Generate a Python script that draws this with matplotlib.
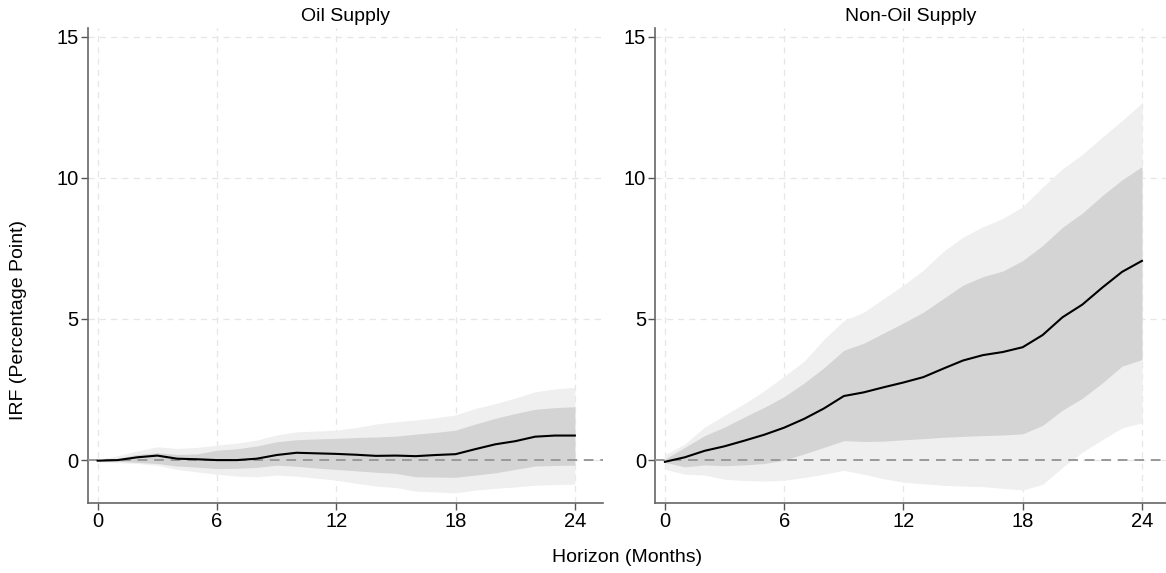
import matplotlib
matplotlib.use("Agg")
import matplotlib.pyplot as plt
import numpy as np

plt.rcParams['font.family'] = ['Liberation Sans', 'DejaVu Sans']

horizon = list(range(25))

titles = ["Oil Supply", "Non-Oil Supply"]

oil_median = [-0.02, 0.0, 0.10, 0.16, 0.05, 0.03, 0.0, 0.0, 0.05, 0.18, 0.26, 0.24, 0.22, 0.19, 0.15, 0.16, 0.14, 0.18, 0.21, 0.39, 0.56, 0.67, 0.83, 0.87, 0.87]
oil_inner_hi = [0.0, 0.06, 0.20, 0.26, 0.20, 0.22, 0.35, 0.40, 0.50, 0.65, 0.72, 0.75, 0.77, 0.80, 0.82, 0.85, 0.92, 0.98, 1.06, 1.28, 1.48, 1.65, 1.80, 1.86, 1.89]
oil_inner_lo = [-0.02, -0.04, -0.08, -0.12, -0.21, -0.25, -0.30, -0.29, -0.26, -0.18, -0.22, -0.28, -0.33, -0.38, -0.43, -0.47, -0.59, -0.60, -0.61, -0.53, -0.45, -0.33, -0.21, -0.19, -0.18]
oil_outer_hi = [0.02, 0.15, 0.33, 0.47, 0.41, 0.45, 0.53, 0.60, 0.71, 0.89, 1.00, 1.03, 1.06, 1.15, 1.28, 1.36, 1.42, 1.50, 1.60, 1.83, 2.00, 2.20, 2.42, 2.52, 2.58]
oil_outer_lo = [-0.06, -0.09, -0.12, -0.18, -0.33, -0.42, -0.50, -0.57, -0.59, -0.53, -0.57, -0.64, -0.71, -0.82, -0.92, -0.97, -1.10, -1.13, -1.16, -1.06, -1.00, -0.95, -0.89, -0.87, -0.85]

non_median = [-0.06, 0.10, 0.33, 0.49, 0.69, 0.90, 1.15, 1.46, 1.83, 2.27, 2.40, 2.58, 2.75, 2.94, 3.24, 3.53, 3.72, 3.83, 4.00, 4.43, 5.06, 5.51, 6.11, 6.67, 7.06]
non_inner_hi = [0.04, 0.45, 0.87, 1.17, 1.53, 1.87, 2.25, 2.73, 3.27, 3.89, 4.14, 4.50, 4.86, 5.24, 5.72, 6.20, 6.50, 6.70, 7.07, 7.60, 8.25, 8.75, 9.37, 9.93, 10.40]
non_inner_lo = [-0.08, -0.24, -0.17, -0.20, -0.17, -0.12, 0.0, 0.22, 0.45, 0.69, 0.66, 0.67, 0.72, 0.76, 0.81, 0.84, 0.87, 0.89, 0.93, 1.23, 1.77, 2.19, 2.73, 3.33, 3.56]
non_outer_hi = [0.19, 0.57, 1.17, 1.59, 2.00, 2.46, 2.97, 3.50, 4.28, 4.94, 5.24, 5.72, 6.20, 6.73, 7.39, 7.90, 8.27, 8.56, 8.98, 9.67, 10.32, 10.83, 11.44, 12.03, 12.65]
non_outer_lo = [-0.32, -0.50, -0.53, -0.68, -0.72, -0.74, -0.71, -0.62, -0.50, -0.36, -0.50, -0.66, -0.78, -0.84, -0.89, -0.92, -0.94, -1.00, -1.06, -0.86, -0.26, 0.28, 0.72, 1.14, 1.32]

panels = [
    (oil_median, oil_inner_lo, oil_inner_hi, oil_outer_lo, oil_outer_hi),
    (non_median, non_inner_lo, non_inner_hi, non_outer_lo, non_outer_hi),
]

xticks = [0, 6, 12, 18, 24]
yticks = [0, 5, 10, 15]

fig = plt.figure(figsize=(11.66, 5.73), dpi=100)
ax_rects = [
    [87.7/1166, 70/573, (603.3-87.7)/1166, (503-28.3)/573],
    [655/1166, 70/573, (1166-655)/1166, (503-28.3)/573],
]
xlims = [(-0.5, 25.43), (-0.5, 25.21)]

axes = []
for i, (rect, (med, ilo, ihi, olo, ohi)) in enumerate(zip(ax_rects, panels)):
    ax = fig.add_axes(rect)
    axes.append(ax)
    ax.fill_between(horizon, olo, ohi, color='#efefef', lw=0, zorder=1)
    ax.fill_between(horizon, ilo, ihi, color='#d4d4d4', lw=0, zorder=2)
    ax.axhline(0, color='#999999', lw=1.4, ls=(0, (5, 3.5)), zorder=3)
    ax.plot(horizon, med, color='black', lw=1.5, zorder=4)
    ax.set_xlim(*xlims[i])
    ax.set_ylim(-1.52, 15.3)
    ax.set_xticks(xticks)
    ax.set_yticks(yticks)
    ax.grid(True, color='#e6e6e6', ls=(0, (5, 4)), lw=0.9, zorder=0)
    ax.set_axisbelow(True)
    for s in ['top', 'right']:
        ax.spines[s].set_visible(False)
    for s in ['left', 'bottom']:
        ax.spines[s].set_color('#666666')
        ax.spines[s].set_linewidth(1.2)
    ax.tick_params(axis='both', direction='out', length=5, width=1, color='#555555',
                   labelsize=14.5, pad=1.5)
    ax.set_title(titles[i], fontsize=14, pad=5)

axes[0].set_ylabel("IRF (Percentage Point)", fontsize=14)
axes[0].yaxis.set_label_coords((27 - 87.7) / 515.6, (503 - 320) / (503 - 28.3))
fig.text((87.7 + 1166) / 2 / 1166, 1 - 557 / 573, "Horizon (Months)", ha='center', va='center', fontsize=14)

fig.savefig("out.png", dpi=100)
